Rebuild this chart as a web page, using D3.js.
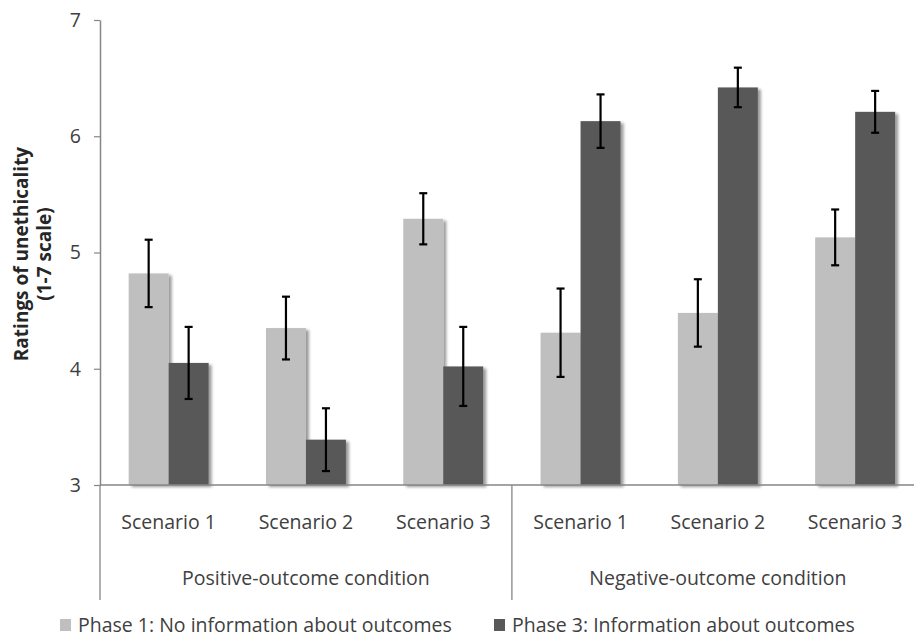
<!DOCTYPE html>
<html>
<head>
<meta charset="utf-8">
<script src="https://cdn.jsdelivr.net/npm/d3@7"></script>
<style>
  html, body { margin: 0; padding: 0; background: #fff; }
  svg { display: block; font-family: "Open Sans", Lato, sans-serif; }
</style>
</head>
<body>
<svg id="chart" width="914" height="637"></svg>
<script>
// Scenario labels and the outcome condition each belongs to
const scenarios = ["Scenario 1", "Scenario 2", "Scenario 3", "Scenario 1", "Scenario 2", "Scenario 3"];
const conditions = ["Positive-outcome condition", "Negative-outcome condition"];
const seriesNames = ["Phase 1: No information about outcomes", "Phase 3: Information about outcomes"];

// Mean ratings and error-bar half-widths per scenario
const phase1Means = [4.82, 4.35, 5.29, 4.31, 4.48, 5.13];
const phase1Err   = [0.29, 0.27, 0.22, 0.38, 0.29, 0.24];
const phase3Means = [4.05, 3.39, 4.02, 6.13, 6.42, 6.21];
const phase3Err   = [0.31, 0.27, 0.34, 0.23, 0.17, 0.18];

const yTicks = [3, 4, 5, 6, 7];

const svg = d3.select("#chart");
const plotLeft = 100, plotTop = 20, plotBottom = 485, bandW = 137.3;
const colors = ["#bfbfbf", "#595959"];
const textColor = "#404040";
const labelSize = 19.5;

const x = d3.scaleBand().domain(d3.range(6)).range([plotLeft, plotLeft + 6 * bandW]).paddingInner(0).paddingOuter(0);
const x1 = d3.scaleBand().domain([0, 1]).range([0, bandW]).paddingInner(0).paddingOuter(0.717);
const y = d3.scaleLinear().domain([3, 7]).range([plotBottom, plotTop]);

// Soft drop shadow under the bars
const defs = svg.append("defs");
const f = defs.append("filter").attr("id", "shadow").attr("x", "-20%").attr("y", "-20%").attr("width", "150%").attr("height", "150%");
f.append("feGaussianBlur").attr("in", "SourceAlpha").attr("stdDeviation", 1.6).attr("result", "b");
f.append("feOffset").attr("in", "b").attr("dx", 3).attr("dy", 2).attr("result", "o");
f.append("feComponentTransfer").attr("in", "o").attr("result", "s")
  .append("feFuncA").attr("type", "linear").attr("slope", 0.4);
const m = f.append("feMerge");
m.append("feMergeNode").attr("in", "s");
m.append("feMergeNode").attr("in", "SourceGraphic");

// Y axis
const yAxis = svg.append("g").attr("transform", `translate(${plotLeft},0)`)
  .call(d3.axisLeft(y).tickValues(yTicks).tickSize(6).tickSizeOuter(0).tickFormat(d3.format("d")));
yAxis.select(".domain").attr("stroke", "#868686").attr("stroke-width", 1.5);
yAxis.selectAll(".tick line").attr("stroke", "#868686").attr("stroke-width", 1.2);
yAxis.selectAll(".tick text").attr("x", -19).attr("font-size", labelSize).attr("fill", textColor)
  .attr("font-family", "'Open Sans', sans-serif");

// Bars
const series = [
  { means: phase1Means, err: phase1Err },
  { means: phase3Means, err: phase3Err }
];
series.forEach((s, si) => {
  const g = svg.append("g");
  g.selectAll("rect").data(s.means).join("rect")
    .attr("x", (d, i) => x(i) + x1(si))
    .attr("width", x1.bandwidth())
    .attr("y", d => y(d))
    .attr("height", d => plotBottom - y(d))
    .attr("fill", colors[si])
    .attr("filter", "url(#shadow)");
});

// Category axis line and group dividers
svg.append("line").attr("x1", plotLeft).attr("x2", 914).attr("y1", plotBottom).attr("y2", plotBottom)
  .attr("stroke", "#868686").attr("stroke-width", 1.5);
[0, 3].forEach(k => {
  svg.append("line").attr("x1", x(k)).attr("x2", x(k)).attr("y1", plotBottom).attr("y2", 600)
    .attr("stroke", "#868686").attr("stroke-width", 1.3);
});

// Error bars
series.forEach((s, si) => {
  const g = svg.append("g").attr("stroke", "#000").attr("stroke-width", 2.2);
  s.means.forEach((d, i) => {
    const cx = x(i) + x1(si) + x1.bandwidth() / 2;
    const y0 = y(d + s.err[i]), y1v = y(d - s.err[i]);
    g.append("line").attr("x1", cx).attr("x2", cx).attr("y1", y0).attr("y2", y1v);
    g.append("line").attr("x1", cx - 4).attr("x2", cx + 4).attr("y1", y0).attr("y2", y0);
    g.append("line").attr("x1", cx - 4).attr("x2", cx + 4).attr("y1", y1v).attr("y2", y1v);
  });
});

// Scenario labels
svg.append("g").selectAll("text").data(scenarios).join("text")
  .attr("x", (d, i) => x(i) + bandW / 2)
  .attr("y", 529)
  .attr("text-anchor", "middle")
  .attr("font-size", labelSize)
  .attr("fill", textColor)
  .text(d => d);

// Condition labels
svg.append("g").selectAll("text").data(conditions).join("text")
  .attr("x", (d, i) => x(i * 3) + 1.5 * bandW)
  .attr("y", 585)
  .attr("text-anchor", "middle")
  .attr("font-size", labelSize)
  .attr("fill", textColor)
  .text(d => d);

// Y axis title
const yt = svg.append("text").attr("transform", "translate(0,254) rotate(-90)")
  .attr("text-anchor", "middle").attr("font-size", 19).attr("font-weight", "bold").attr("fill", "#262626");
yt.append("tspan").attr("x", 0).attr("y", 28).text("Ratings of unethicality");
yt.append("tspan").attr("x", 0).attr("y", 51).text("(1-7 scale)");

// Legend
const legendX = [60, 494];
seriesNames.forEach((name, i) => {
  const g = svg.append("g").attr("transform", `translate(${legendX[i]},619)`);
  g.append("rect").attr("width", 11).attr("height", 12).attr("fill", colors[i]);
  g.append("text").attr("x", 18).attr("y", 12.5).attr("font-size", labelSize).attr("fill", textColor).text(name);
});
</script>
</body>
</html>
